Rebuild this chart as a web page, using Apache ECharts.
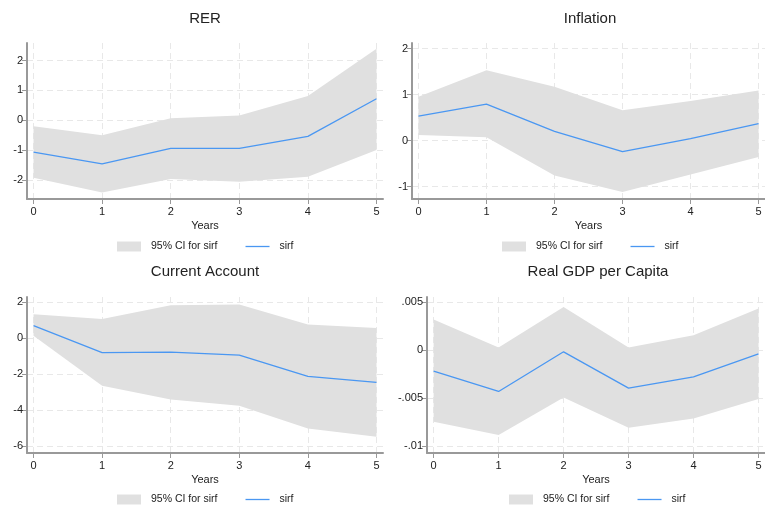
<!DOCTYPE html>
<html lang="en">
<head>
<meta charset="UTF-8">
<title>Impulse responses</title>
<script src="https://cdn.jsdelivr.net/npm/echarts@6/dist/echarts.min.js"></script>
<style>html,body{margin:0;padding:0;background:#fff;}</style>
</head>
<body>
<div id="main" style="width:765px;height:509px;"></div>
<script>
// 横轴
var years = [0, 1, 2, 3, 4, 5];

// RER
var rerIrf   = [-1.07, -1.46, -0.94, -0.94, -0.54, 0.72];
var rerLower = [-1.93, -2.42, -1.97, -2.06, -1.89, -1.00];
var rerUpper = [-0.20, -0.50, 0.07, 0.16, 0.81, 2.40];
var rerTicks = [-2, -1, 0, 1, 2];

// Inflation
var infIrf   = [0.53, 0.79, 0.20, -0.24, 0.04, 0.37];
var infLower = [0.12, 0.07, -0.76, -1.12, -0.74, -0.36];
var infUpper = [0.95, 1.53, 1.17, 0.66, 0.86, 1.09];
var infTicks = [-1, 0, 1, 2];

// Current Account
var caIrf   = [0.70, -0.80, -0.78, -0.94, -2.13, -2.46];
var caLower = [0.13, -2.65, -3.41, -3.76, -5.02, -5.48];
var caUpper = [1.33, 1.06, 1.83, 1.87, 0.76, 0.57];
var caTicks = [-6, -4, -2, 0, 2];

// Real GDP per Capita
var gdpIrf   = [-0.00219, -0.00431, -0.00017, -0.00396, -0.00278, -0.00038];
var gdpLower = [-0.00747, -0.00885, -0.00493, -0.00809, -0.00712, -0.00510];
var gdpUpper = [0.00319, 0.00028, 0.00451, 0.00028, 0.00156, 0.00434];
var gdpTicks = [-0.01, -0.005, 0, 0.005];

var titles = ['RER', 'Inflation', 'Current Account', 'Real GDP per Capita'];
var ciName = '95% CI for sirf';
var lineName = 'sirf';

var font = 'Liberation Sans, Arial, sans-serif';
var txt = '#222';
var axisCol = '#999';
var bandCol = '#e0e0e0';
var lineCol = '#4a97f2';

// 每个小图的位置
var panels = [
    { irf: rerIrf, lo: rerLower, hi: rerUpper, ticks: rerTicks, ymin: -2.64, ymax: 2.59,
      grid: { left: 27, top: 43, width: 356, height: 156 }, xmin: -0.095, xmax: 5.095,
      title: [205, 19], legend: [117, 241] },
    { irf: infIrf, lo: infLower, hi: infUpper, ticks: infTicks, ymin: -1.27, ymax: 2.12,
      grid: { left: 412, top: 43, width: 356, height: 156 }, xmin: -0.095, xmax: 5.095,
      title: [590, 19], legend: [502, 241] },
    { irf: caIrf, lo: caLower, hi: caUpper, ticks: caTicks, ymin: -6.39, ymax: 2.29,
      grid: { left: 27, top: 297, width: 356, height: 156 }, xmin: -0.095, xmax: 5.095,
      title: [205, 272], legend: [117, 494] },
    { irf: gdpIrf, lo: gdpLower, hi: gdpUpper, ticks: gdpTicks, ymin: -0.01073, ymax: 0.00555,
      grid: { left: 427, top: 297, width: 341, height: 156 }, xmin: -0.102, xmax: 5.1,
      title: [598, 272], legend: [509, 494] }
];

function fmtNum(v) {
    var s = String(Math.round(v * 100000) / 100000);
    return s.replace(/^0\./, '.').replace(/^-0\./, '-.');
}

function pairs(xs, ys) {
    return xs.map(function (x, i) { return [x, ys[i]]; });
}

// 置信带: 上沿正走, 下沿倒走, 画成一个多边形
function bandRenderer(lo, hi) {
    return function (params, api) {
        if (params.dataIndex !== 0) return;
        var pts = [];
        for (var k = 0; k < years.length; k++) pts.push(api.coord([years[k], hi[k]]));
        for (var k = years.length - 1; k >= 0; k--) pts.push(api.coord([years[k], lo[k]]));
        return {
            type: 'polygon',
            shape: { points: pts },
            style: { fill: bandCol },
            silent: true
        };
    };
}

var myChart = echarts.init(document.getElementById('main'), null, { renderer: 'canvas' });

var option = {
    animation: false,
    backgroundColor: '#fff',
    grid: [], xAxis: [], yAxis: [], series: [], legend: [], graphic: []
};

panels.forEach(function (p, i) {
    option.grid.push(p.grid);
    option.xAxis.push({
        type: 'value', gridIndex: i, min: p.xmin, max: p.xmax,
        name: 'Years', nameLocation: 'middle', nameGap: 21,
        nameTextStyle: { fontSize: 11, color: txt, fontFamily: font },
        axisLine: { show: true, onZero: false, lineStyle: { color: axisCol, width: 2 } },
        axisTick: { show: true, length: 5, customValues: years, lineStyle: { color: axisCol } },
        axisLabel: { customValues: years, fontSize: 11, color: txt, fontFamily: font, margin: 7 },
        splitLine: { show: true, lineStyle: { color: '#e8e8e8', type: [6, 4], width: 1 } }
    });
    option.yAxis.push({
        type: 'value', gridIndex: i, min: p.ymin, max: p.ymax,
        axisLine: { show: true, onZero: false, lineStyle: { color: axisCol, width: 2 } },
        axisTick: { show: true, length: 5, customValues: p.ticks, lineStyle: { color: axisCol } },
        axisLabel: { customValues: p.ticks, fontSize: 11, color: txt, fontFamily: font, margin: 4,
                     formatter: fmtNum },
        splitLine: { show: true, lineStyle: { color: '#e8e8e8', type: [6, 4], width: 1 } }
    });
    option.series.push({
        name: ciName, type: 'custom', xAxisIndex: i, yAxisIndex: i,
        data: years.map(function (x, k) { return [x, p.lo[k], p.hi[k]]; }),
        encode: { x: 0, y: [1, 2] },
        renderItem: bandRenderer(p.lo, p.hi),
        itemStyle: { color: bandCol },
        silent: true, z: 1
    });
    option.series.push({
        name: lineName, type: 'line', xAxisIndex: i, yAxisIndex: i,
        data: pairs(years, p.irf), symbol: 'none', silent: true,
        itemStyle: { color: lineCol },
        lineStyle: { color: lineCol, width: 1.3 }, z: 2
    });
    option.legend.push({
        left: p.legend[0], top: p.legend[1], selectedMode: false, padding: 0,
        itemWidth: 24, itemHeight: 10, itemGap: 28,
        data: [
            { name: ciName, icon: 'rect' },
            { name: lineName, icon: 'path://M0,0 L24,0 L24,1.3 L0,1.3 Z' }
        ],
        textStyle: { fontSize: 10.5, color: txt, fontFamily: font, padding: [0, 0, 0, 5] }
    });
    option.graphic.push({
        type: 'text', x: p.title[0], y: p.title[1],
        style: { text: titles[i], align: 'center', verticalAlign: 'middle',
                 fontSize: 15, fontFamily: font, fill: txt }
    });
});

myChart.setOption(option);
</script>
</body>
</html>
